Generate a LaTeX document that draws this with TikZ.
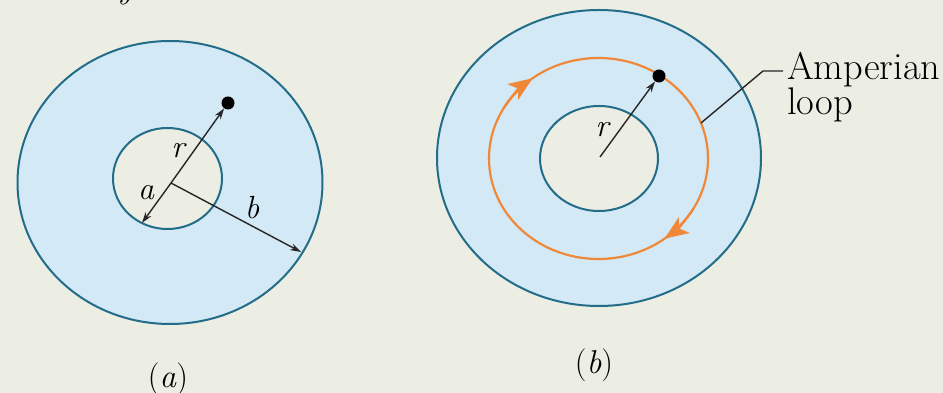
\documentclass[tikz,border=0pt]{standalone}
\usepackage{fontspec}
\usetikzlibrary{arrows.meta}
\definecolor{bg}{HTML}{EDEEE3}
\definecolor{fillblue}{HTML}{D3E9F5}
\definecolor{rimcol}{HTML}{236C8A}
\definecolor{loopor}{HTML}{F0883A}
\begin{document}
\begin{tikzpicture}[x=1pt,y=1pt,
  rim/.style={draw=rimcol, line width=2pt},
  vec/.style={line width=1.4pt, draw=black!85, -{Stealth[length=11pt,width=7pt]}},
  lab/.style={font=\fontsize{32}{38}\selectfont\itshape, inner sep=0pt},
  captext/.style={font=\fontsize{33}{38}\selectfont, inner sep=0pt, anchor=base},
  dotmark/.style={circle, fill=black, inner sep=0pt, minimum size=13pt},
  orarrow/.style={draw=loopor, line width=2.2pt, -{Stealth[length=24pt,width=19pt,inset=6pt]}},
  amp/.style={font=\fontsize{38.5}{38}\selectfont, inner sep=0pt, anchor=base west}]
\useasboundingbox (0,0) rectangle (943,393);
\clip (0,0) rectangle (943,393);
\fill[bg] (0,0) rectangle (943,393);
% stray glyph cut at the top
\node[lab, anchor=base west] (ytop) at (117,394) {y};
% ---------- panel (a)
\draw[rim, fill=fillblue] (170,210.5) ellipse [x radius=152.5, y radius=141.5];
\draw[rim, fill=bg] (167.5,214.5) ellipse [x radius=54.5, y radius=50.5];
\coordinate (Oa) at (171,210);
\node[dotmark] (Pa) at (228,290) {};
\coordinate (Ea) at (142,170);
\coordinate (Eb) at (301,141);
\draw[vec] (Oa) -- (Pa);
\draw[vec] (Oa) -- (Ea);
\draw[vec] (Oa) -- (Eb);
\node[lab] (ra) at (178,242) {r};
\node[lab] (aa) at (146,200) {a};
\node[lab] (ba) at (252,185) {b};
\node[captext] (capa) at (168,5) {(\textit{a})};
% ---------- panel (b)
\draw[rim, fill=fillblue] (599,235) ellipse [x radius=162, y radius=148];
\draw[rim, fill=bg] (599,234.5) ellipse [x radius=59, y radius=52.5];
\coordinate (Lc) at (598.5,234.5);
\draw[loopor, line width=2.2pt] (Lc) ellipse [x radius=109.5, y radius=100.5];
\draw[orarrow] ([shift={(150:109.5 and 100.5)}]Lc) arc [start angle=150, end angle=127, x radius=109.5, y radius=100.5];
\draw[orarrow] ([shift={(330:109.5 and 100.5)}]Lc) arc [start angle=330, end angle=307, x radius=109.5, y radius=100.5];
\coordinate (Ob) at (600,236);
\node[dotmark] (Pb) at (659,317) {};
\draw[vec] (Ob) -- (Pb);
\node[lab] (rb) at (602,263) {r};
\coordinate (L1) at (701,270);
\coordinate (L2) at (763,322);
\coordinate (L3) at (783,322);
\draw[line width=1.4pt, draw=black!85] (L1) -- (L2) -- (L3);
\node[amp] (ampt) at (787,313) {Amperian};
\node[amp] (loopt) at (787,278) {loop};
\node[captext] (capb) at (594,19) {(\textit{b})};
\end{tikzpicture}
\end{document}
